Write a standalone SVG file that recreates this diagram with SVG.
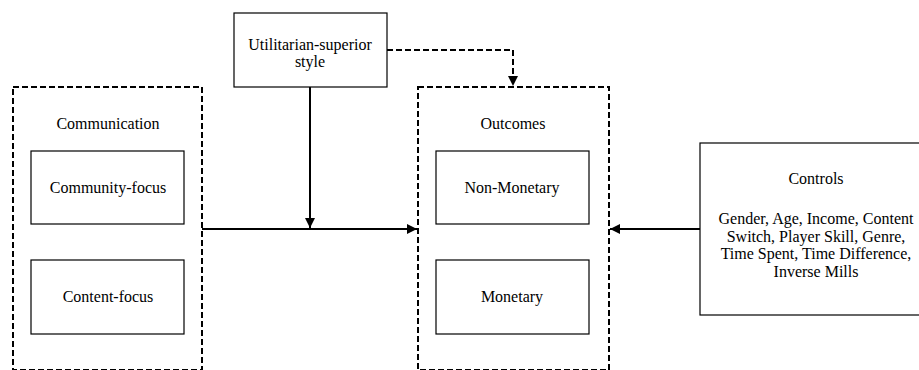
<svg xmlns="http://www.w3.org/2000/svg" width="919" height="370" viewBox="0 0 919 370">
<style>
.grp{fill:none;stroke:#000;stroke-width:2;stroke-dasharray:6 3}
.box{fill:#fff;stroke:#000;stroke-width:1.2}
.con{fill:none;stroke:#000;stroke-width:2}
.dash{stroke-dasharray:6 3}
</style>
<defs>
<marker id="ah" viewBox="0 0 10 10" refX="10" refY="5" markerWidth="5" markerHeight="5" orient="auto" markerUnits="strokeWidth">
<path d="M0,0 L10,5 L0,10 z" fill="#000"/>
</marker>
</defs>
<g font-family="Liberation Serif, Times New Roman, serif" font-size="16" text-anchor="middle" fill="#000">
<g id="communication">
<rect class="grp" x="13" y="87" width="189" height="283"/>
<text x="108" y="129">Communication</text>
</g>
<g id="community-focus">
<rect class="box" x="31" y="151" width="153" height="73"/>
<text x="108" y="193">Community-focus</text>
</g>
<g id="content-focus">
<rect class="box" x="31" y="260" width="153" height="74"/>
<text x="108" y="302">Content-focus</text>
</g>
<g id="utilitarian">
<rect class="box" x="234" y="13" width="153" height="74"/>
<text x="310" y="49.5">Utilitarian-superior</text>
<text x="310" y="67.3">style</text>
</g>
<g id="outcomes">
<rect class="grp" x="418" y="87" width="191" height="283"/>
<text x="513" y="129">Outcomes</text>
</g>
<g id="non-monetary">
<rect class="box" x="436" y="151" width="153" height="73"/>
<text x="512" y="193">Non-Monetary</text>
</g>
<g id="monetary">
<rect class="box" x="436" y="260" width="153" height="74"/>
<text x="512" y="302">Monetary</text>
</g>
<g id="controls">
<rect class="box" x="700" y="143" width="240" height="172"/>
<text x="816" y="184">Controls</text>
<text x="816" y="224">Gender, Age, Income, Content</text>
<text x="816" y="241.7">Switch, Player Skill, Genre,</text>
<text x="816" y="259.4">Time Spent, Time Difference,</text>
<text x="816" y="277.1">Inverse Mills</text>
</g>
</g>
<g id="connectors">
<path class="con" d="M202,229 H417" marker-end="url(#ah)"/>
<path class="con" d="M310,87 V228" marker-end="url(#ah)"/>
<path class="con dash" d="M387,50 H513 V86" marker-end="url(#ah)"/>
<path class="con" d="M700,229 H610" marker-end="url(#ah)"/>
</g>
</svg>
